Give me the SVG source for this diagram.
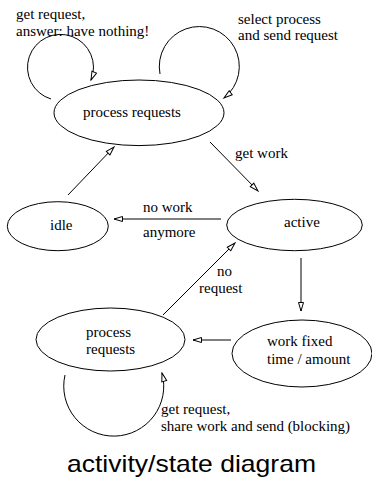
<svg xmlns="http://www.w3.org/2000/svg" width="372" height="477" viewBox="0 0 372 477">
<style>
.n{fill:none;stroke:#000;stroke-width:1}
.c{fill:none;stroke:#000;stroke-width:1;marker-end:url(#ah)}
text{font-family:"Liberation Serif","Times New Roman",serif;font-size:15px;fill:#000}
.t{font-family:"Liberation Sans",Arial,sans-serif;font-size:24px}
</style>
<defs>
<marker id="ah" markerWidth="11" markerHeight="7" refX="9.5" refY="3.5" orient="auto" markerUnits="userSpaceOnUse">
<path d="M1,1 L9.5,3.5 L1,6 Z" fill="#fff" stroke="#000" stroke-width="1"/>
</marker>
</defs>
<rect width="372" height="477" fill="#fff"/>
<g id="connectors">
<path class="c" d="M51,99 A33,33 0 1 1 91,80"/>
<path class="c" d="M160,74 A40,40 0 1 1 224,98"/>
<path class="c" d="M65,375 A50,50 0 1 0 162,373"/>
<path class="c" d="M68,195 L114,147"/>
<path class="c" d="M210,142 L258,191"/>
<path class="c" d="M221,219 L114,219"/>
<path class="c" d="M163,315 L235,243"/>
<path class="c" d="M301,258 L301,311"/>
<path class="c" d="M231,340 L193,340"/>
<text x="16" y="19">get request,</text>
<text x="16" y="35.5">answer: have nothing!</text>
<text x="238" y="23.5">select process</text>
<text x="238" y="39.5">and send request</text>
<text x="235" y="158">get work</text>
<text x="143" y="212">no work</text>
<text x="143" y="236.5">anymore</text>
<text x="217" y="276">no</text>
<text x="199" y="292.5">request</text>
<text x="161" y="414">get request,</text>
<text x="161" y="431">share work and send (blocking)</text>
</g>
<g id="process-requests-top">
<ellipse class="n" cx="139" cy="112.8" rx="85" ry="32.8"/>
<text x="83" y="117">process requests</text>
</g>
<g id="idle">
<ellipse class="n" cx="57.8" cy="226.2" rx="50.5" ry="24.5"/>
<text x="50" y="230">idle</text>
</g>
<g id="active">
<ellipse class="n" cx="294.5" cy="225" rx="67.8" ry="25.7"/>
<text x="284" y="226.5">active</text>
</g>
<g id="work-fixed">
<ellipse class="n" cx="302" cy="353.5" rx="70" ry="33.5"/>
<text x="267" y="346">work fixed</text>
<text x="267" y="364">time / amount</text>
</g>
<g id="process-requests-bottom">
<ellipse class="n" cx="110.5" cy="339.5" rx="74.5" ry="31.5"/>
<text x="86" y="337">process</text>
<text x="86" y="354">requests</text>
</g>
<text class="t" x="67" y="472" textLength="249" lengthAdjust="spacingAndGlyphs">activity/state diagram</text>
</svg>
